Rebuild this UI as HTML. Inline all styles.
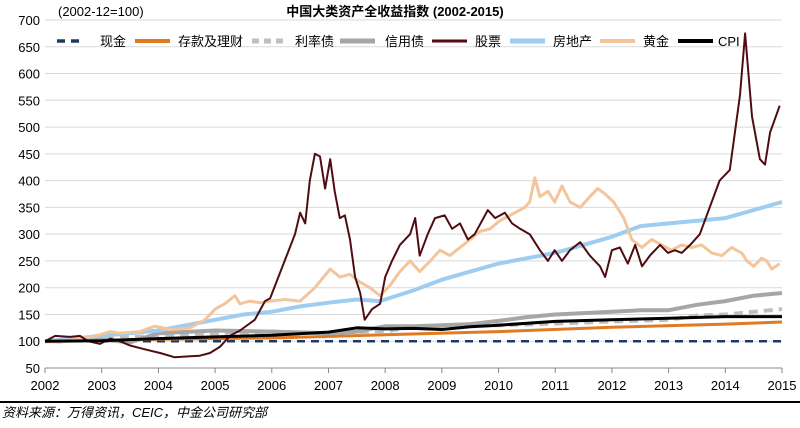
<!DOCTYPE html>
<html><head><meta charset="utf-8"><style>
body{margin:0;background:#fff;width:800px;height:423px;overflow:hidden;font-family:"Liberation Sans","Noto Sans CJK SC",sans-serif}
svg text{font-family:"Liberation Sans","Noto Sans CJK SC",sans-serif}
</style></head><body>
<svg id="chart" width="800" height="423" viewBox="0 0 800 423" xmlns="http://www.w3.org/2000/svg">
<text x="58" y="16" font-size="13">(2002-12=100)</text>
<text x="395" y="16" font-size="13" font-weight="bold" text-anchor="middle">中国大类资产全收益指数 (2002-2015)</text>
<g id="grid"></g><g id="series"></g><g id="axes"></g><g id="legend"></g>
<line x1="0" y1="402" x2="800" y2="402" stroke="#000" stroke-width="2"/>
<text x="2" y="417" font-size="13" font-style="italic">资料来源：万得资讯，CEIC，中金公司研究部</text>
</svg>
<script>
const yTicks=[50,100,150,200,250,300,350,400,450,500,550,600,650,700];
const xTicks=[2002,2003,2004,2005,2006,2007,2008,2009,2010,2011,2012,2013,2014,2015];
const cashYears=[2002,2015];
const cashVals=[100,100];
const depositYears=[2002,2004,2006,2008,2010,2012,2014,2015];
const depositVals=[100,104,106,112,118,126,132,136];
const rateYears=[2002,2003,2004,2005,2006,2007,2008,2008.5,2009,2010,2011,2012,2013,2013.5,2014,2015];
const rateVals=[100,105,110,115,118,115,118,127,128,130,133,137,140,148,150,160];
const creditYears=[2002,2003,2003.5,2004,2005,2006,2007,2007.5,2008,2008.5,2009,2009.5,2010,2010.5,2011,2012,2012.5,2013,2013.5,2014,2014.5,2015];
const creditVals=[100,103,98,115,120,118,115,118,128,128,130,132,138,145,150,155,158,158,168,175,185,190];
const stockYears=[2002,2002.18,2002.44,2002.62,2002.76,2002.97,2003.15,2003.32,2003.5,2003.76,2004.03,2004.29,2004.56,2004.73,2004.91,2005.09,2005.26,2005.44,2005.7,2005.88,2005.97,2006.41,2006.5,2006.59,2006.67,2006.76,2006.85,2006.94,2007.03,2007.11,2007.2,2007.29,2007.38,2007.47,2007.56,2007.64,2007.77,2007.91,2008,2008.12,2008.26,2008.44,2008.53,2008.61,2008.75,2008.88,2009.05,2009.18,2009.32,2009.46,2009.58,2009.81,2009.94,2010.11,2010.24,2010.38,2010.55,2010.73,2010.87,2010.99,2011.12,2011.26,2011.44,2011.61,2011.79,2011.88,2012,2012.14,2012.28,2012.41,2012.53,2012.67,2012.85,2012.99,2013.11,2013.23,2013.38,2013.55,2013.9,2014.08,2014.26,2014.35,2014.47,2014.61,2014.7,2014.79,2014.96];
const stockVals=[100,110,108,110,100,95,105,100,92,85,78,70,72,73,78,90,110,120,140,175,180,300,340,320,400,450,445,385,440,380,330,335,290,220,190,140,160,170,220,250,280,300,330,260,300,330,335,310,320,290,300,345,330,340,320,310,300,270,250,270,250,270,285,260,240,220,270,275,245,280,240,260,280,265,270,265,280,300,400,420,560,675,520,440,430,490,540];
const estateYears=[2002,2004,2005,2005.5,2006,2006.5,2007,2007.5,2007.9,2008,2008.5,2009,2009.5,2010,2010.5,2011,2011.5,2012,2012.5,2013,2013.5,2014,2014.5,2015];
const estateVals=[100,120,140,150,155,165,172,178,175,178,195,215,230,245,255,265,280,295,315,320,325,330,345,360];
const goldYears=[2002,2002.26,2002.62,2002.97,2003.15,2003.32,2003.67,2003.94,2004.2,2004.56,2004.82,2005,2005.17,2005.35,2005.44,2005.61,2005.79,2005.97,2006.23,2006.5,2006.76,2007.03,2007.2,2007.38,2007.56,2007.73,2007.91,2008.09,2008.26,2008.44,2008.61,2008.75,2008.97,2009.14,2009.32,2009.5,2009.67,2009.85,2010.02,2010.29,2010.46,2010.55,2010.64,2010.73,2010.87,2010.99,2011.12,2011.26,2011.44,2011.61,2011.75,2011.88,2012.03,2012.21,2012.35,2012.53,2012.7,2012.88,2013.05,2013.23,2013.41,2013.58,2013.76,2013.94,2014.11,2014.29,2014.38,2014.5,2014.64,2014.73,2014.82,2014.96];
const goldVals=[100,98,105,112,118,115,118,128,122,125,140,160,170,185,170,175,172,175,178,175,200,235,220,225,210,200,185,205,230,250,230,245,270,260,275,290,305,310,325,340,350,360,405,370,380,360,390,360,350,370,385,375,360,330,290,275,290,280,270,280,275,280,265,260,275,265,250,240,255,250,235,245];
const x0=45,x1=782,y0=368,y1=20;
const X=t=>x0+(t-2002)/(2015-2002)*(x1-x0);
const Y=v=>y0-(v-50)/(700-50)*(y0-y1);
const NS='http://www.w3.org/2000/svg';
function mk(tag,attrs,parent){const e=document.createElementNS(NS,tag);for(const k in attrs)e.setAttribute(k,attrs[k]);parent.appendChild(e);return e;}
const grid=document.getElementById('grid'),axes=document.getElementById('axes'),ser=document.getElementById('series'),leg=document.getElementById('legend');
yTicks.forEach(v=>{
 if(v>50){const g=mk('line',{x1:x0,x2:x1,y1:Y(v),y2:Y(v),stroke:'#d9d9d9','stroke-width':1},grid);
 
 }
 const t=mk('text',{x:40,y:Y(v)+5,'font-size':13,'text-anchor':'end'},axes);t.textContent=v;
 
 
});
const ax=mk('line',{x1:x0,x2:x1,y1:y0,y2:y0,stroke:'#888','stroke-width':1},axes);


xTicks.forEach(t=>{
 mk('line',{x1:X(t),x2:X(t),y1:y0,y2:y0+5,stroke:'#888'},axes);
 const l=mk('text',{x:X(t),y:390,'font-size':13,'text-anchor':'middle'},axes);l.textContent=t;
 
 
});
const defs=[
 ['cash','现金',cashYears,cashVals,'#1f3864',2.5,'8,6'],
 ['deposit','存款及理财',depositYears,depositVals,'#e07b22',3,''],
 ['rate-bond','利率债',rateYears,rateVals,'#bfbfbf',4,'9,6'],
 ['credit-bond','信用债',creditYears,creditVals,'#a6a6a6',4,''],
 ['real-estate','房地产',estateYears,estateVals,'#9fcdf0',4,''],
 ['gold','黄金',goldYears,goldVals,'#f4c49a',3,''],
 ['cpi','CPI',[],[],'#000',3,''],
 ['stock','股票',stockYears,stockVals,'#4f0d12',2,'']
];
const cpiYears=[2002,2003,2004,2005,2006,2007,2007.5,2008,2008.5,2009,2009.5,2010,2011,2012,2013,2014,2015];
const cpiVals=[100,101,105,108,111,117,125,123,124,122,127,130,137,140,143,146,146];
defs[6][2]=cpiYears;defs[6][3]=cpiVals;
const order=['cash','deposit','rate-bond','credit-bond','real-estate','gold','stock','cpi'];
order.forEach(id=>{const d=defs.find(e=>e[0]===id);
 const pts=d[2].map((t,i)=>X(t).toFixed(1)+','+Y(d[3][i]).toFixed(1)).join(' ');
 const p=mk('polyline',{points:pts,fill:'none',stroke:d[4],'stroke-width':d[5],'stroke-linejoin':'round'},ser);
 if(d[6])p.setAttribute('stroke-dasharray',d[6]);
 
 
});
const legPos=[['cash',57,100],['deposit',135,178],['rate-bond',252,295],['credit-bond',340,385],['stock',432,475],['real-estate',510,553],['gold',600,643],['cpi',678,718]];
legPos.forEach(([id,lx,tx])=>{const d=defs.find(e=>e[0]===id);
 const g=mk('g',{},leg);
 
 
 const l=mk('line',{x1:lx,x2:lx+(id==='cash'?24:35),y1:41,y2:41,stroke:d[4],'stroke-width':d[5]+1},g);
 if(d[6])l.setAttribute('stroke-dasharray',id==='cash'?'8,6':'7,5');
 const t=mk('text',{x:tx,y:46,'font-size':13},g);t.textContent=d[1];
});
</script>
</body></html>
